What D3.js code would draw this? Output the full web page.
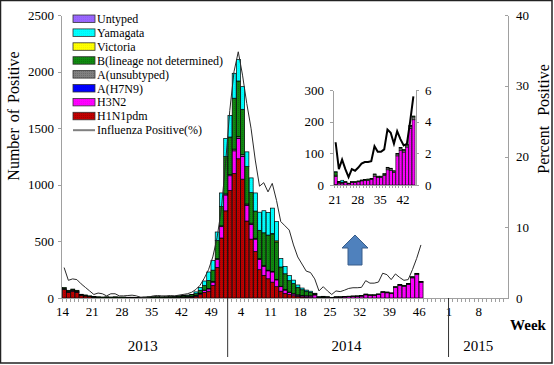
<!DOCTYPE html>
<html lang="en">
<head>
<meta charset="utf-8">
<title>Influenza Positive by Week</title>
<script src="https://d3js.org/d3.v7.min.js"></script>
<style>
  body { margin: 0; background: #fff; }
  svg { display: block; font-family: "Liberation Serif", "Times New Roman", serif; }
  .axis path, .axis line { stroke: #a0a0a0; shape-rendering: crispEdges; }
  .axis text { font-size: 13px; fill: #000; font-family: "Liberation Serif", serif; }
</style>
</head>
<body>
<svg id="chart" width="554" height="365"></svg>
<script>

// ---- data: 2013 wk14 .. 2014 wk46 (85 weeks) ----
var years = [2013, 2014, 2015];
var firstWeek = {2013: 14, 2014: 1, 2015: 1};
var lastWeek = {2013: 52, 2014: 52, 2015: 14};

var h1n1 = [75,50,60,50,22,18,12,4,2,1,2,1,2,1,1,1,1,1,1,1,2,2,2,2,2,3,3,4,5,6,8,15,30,50,60,110,270,530,770,
            950,1100,1230,1050,680,520,410,250,200,170,140,100,60,40,30,20,15,10,5,3,1,0,0,0,0,0,0,0,0,0,0,0,0,0,0,0,0,0,0,0,0,0,0,0,0,0];
var h3n2 = [2,2,3,3,2,2,1,1,1,1,1,1,1,1,1,1,1,1,1,1,1,1,1,1,1,1,1,1,2,2,3,5,8,15,20,30,70,100,140,
            130,200,180,200,140,130,110,90,80,70,90,60,40,30,20,15,10,10,12,14,26,6,6,8,4,8,8,10,13,15,15,17,28,24,24,30,48,46,40,92,110,104,120,178,206,138];
var h7n9 = [0,0,0,0,0,0,0,0,0,0,0,0,0,0,0,0,0,0,0,0,0,0,0,0,0,0,0,0,0,0,0,0,0,0,0,0,0,0,0,
            0,0,2,2,1,1,0,0,0,0,0,0,0,0,0,0,0,0,0,0,0,0,0,0,0,0,0,0,0,0,0,0,0,0,0,0,0,0,0,0,0,0,0,0,0,0];
var aUnsub = [8,8,8,7,4,3,2,3,2,2,2,2,2,2,2,1,1,1,1,2,2,2,2,2,2,2,3,3,3,4,4,4,5,5,5,6,8,8,10,
              12,15,15,15,10,10,8,8,6,6,6,5,4,4,3,3,3,3,3,3,4,1,1,1,1,1,1,1,1,1,2,2,5,3,3,4,6,5,4,6,7,6,6,8,9,6];
var bLnd = [8,8,8,8,5,4,4,5,6,5,6,5,6,5,5,4,4,3,4,5,6,7,7,6,7,8,8,10,10,12,14,15,25,40,70,100,160,170,330,
            330,450,490,400,330,270,240,250,290,310,330,330,170,140,100,90,65,50,40,30,10,3,2,2,1,2,2,2,2,2,2,2,2,1,1,2,2,2,1,2,2,2,2,2,3,2];
var victoria = [0,0,0,0,0,0,0,0,0,0,0,0,0,0,0,0,0,0,0,0,0,0,0,0,0,0,0,0,0,0,0,0,0,0,0,0,0,0,0,
                0,0,0,0,0,0,0,0,0,0,3,10,0,0,0,0,0,0,0,0,0,0,0,0,0,0,0,0,0,0,0,0,0,0,0,0,0,0,0,0,0,0,0,0,0,0];
var yamagata = [0,0,0,0,0,0,0,0,0,0,0,0,0,0,0,0,0,0,0,0,0,0,0,0,0,0,1,1,2,2,3,15,25,40,75,85,75,120,160,
                190,220,190,200,130,130,160,160,195,200,225,170,75,65,45,30,22,15,10,10,1,1,6,0,0,0,0,0,0,0,0,0,0,0,0,0,0,0,0,0,0,0,0,0,0,0];
var untyped = [0,0,0,0,0,0,0,0,0,0,0,0,0,0,0,0,0,0,0,0,0,0,0,0,0,0,0,0,0,0,0,0,0,0,0,0,0,0,0,
               0,0,0,0,0,0,0,0,0,0,0,0,0,0,0,0,0,0,0,0,0,0,0,0,0,0,0,0,0,0,0,0,0,0,0,0,0,0,0,0,0,0,0,0,0,0];
var pctPositive = [4.3,2.5,2.7,2.6,2.0,1.5,1.0,0.5,0.7,0.6,0.3,0.6,0.6,0.3,0.3,0.35,0.4,0.3,0.1,0.1,0.15,0.3,0.35,0.3,0.3,0.35,0.3,0.4,0.5,0.6,0.8,1.2,1.8,2.8,4.0,5.8,8.5,12.5,19.0,
                   26.5,32.0,34.8,31.5,27.5,24.0,19.5,15.8,16.3,15.0,16.2,13.8,10.8,10.2,9.6,7.5,5.8,4.8,3.8,3.6,2.7,1.0,1.6,1.0,0.5,1.0,0.9,1.1,1.35,1.45,1.45,1.5,2.45,2.1,2.1,2.25,3.5,3.3,2.6,3.4,2.9,2.5,2.6,4.0,5.6,7.5];

var keys = ["H1N1pdm", "H3N2", "A(H7N9)", "A(unsubtyped)", "B(lineage not determined)", "Victoria", "Yamagata", "Untyped"];
var series = [h1n1, h3n2, h7n9, aUnsub, bLnd, victoria, yamagata, untyped];
var colors = ["#c00000", "#ff00ff", "#0000ff", "#808080", "#108a10", "#ffff00", "#00ffff", "#9966ff"];

var leftTicks = [0, 500, 1000, 1500, 2000, 2500];
var rightTicks = [0, 10, 20, 30, 40];
var xLabelWeeks = ["2013-14","2013-21","2013-28","2013-35","2013-42","2013-49",
                   "2014-4","2014-11","2014-18","2014-25","2014-32","2014-39","2014-46",
                   "2015-1","2015-8"];
var yearLabelAt = {2013: "2013-33", 2014: "2014-29", 2015: "2015-8"};

// inset: 2014 wk21 .. wk45
var insetFrom = "2014-21", insetTo = "2014-45";
var insetLeftTicks = [0, 100, 200, 300];
var insetRightTicks = [0, 2, 4, 6];
var insetLabelWeeks = ["2014-21", "2014-28", "2014-35", "2014-42"];

// ---- week keys ----
var allWeeks = [];
years.forEach(function(y){
  d3.range(firstWeek[y], lastWeek[y] + 1).forEach(function(w){ allWeeks.push(y + "-" + w); });
});

var rows = allWeeks.slice(0, h1n1.length).map(function(k, i){
  var r = {week: k, pct: pctPositive[i]};
  keys.forEach(function(key, j){ r[key] = series[j][i]; });
  return r;
});

var svg = d3.select("#chart");

// pattern fills for the dotted look
var defs = svg.append("defs");
colors.forEach(function(c, i){
  var p = defs.append("pattern").attr("id", "pat" + i)
    .attr("patternUnits", "userSpaceOnUse").attr("width", 2).attr("height", 2);
  p.append("rect").attr("width", 2).attr("height", 2).attr("fill", c);
  p.append("rect").attr("width", 1).attr("height", 1)
    .attr("fill", d3.color(c).darker(0.6)).attr("opacity", i == 0 || i == 4 || i == 3 ? 0.8 : 0.25);
});

// outer frame
svg.append("rect").attr("x", 0.5).attr("y", 0.5).attr("width", 551.5).attr("height", 362.5)
   .attr("fill", "none").attr("stroke", "#222").attr("stroke-width", 1.5);

// ---- main scales ----
var x = d3.scaleBand().domain(allWeeks).range([62, 508]).padding(0);
var y = d3.scaleLinear().domain([0, 2500]).range([298, 15]);
var yPct = d3.scaleLinear().domain([0, 40]).range([298, 15]);

var stack = d3.stack().keys(keys);
var stacked = stack(rows);

// bars
svg.append("g")
  .selectAll("g")
  .data(stacked)
  .enter()
  .append("g")
  .attr("fill", function(d, i){ return "url(#pat" + i + ")"; })
  .selectAll("rect")
  .data(function(d){ return d.filter(function(s){ return s[1] - s[0] > 0; }); })
  .enter()
  .append("rect")
  .attr("x", function(d){ return x(d.data.week) + 0.3; })
  .attr("y", function(d){ return y(d[1]); })
  .attr("width", x.bandwidth() - 0.3)
  .attr("height", function(d){ return y(d[0]) - y(d[1]); })
  .attr("stroke", "#000")
  .attr("stroke-width", 0.7);

// percent line
var line = d3.line()
  .x(function(d){ return x(d.week) + x.bandwidth() / 2; })
  .y(function(d){ return yPct(d.pct); });

svg.append("path").datum(rows)
  .attr("d", line)
  .attr("fill", "none")
  .attr("stroke", "#2a2a2a")
  .attr("stroke-width", 1);

// left axis
svg.append("g").attr("class", "axis")
  .attr("transform", "translate(61,0)")
  .call(d3.axisLeft(y).tickValues(leftTicks).tickFormat(d3.format("d"))
        .tickSize(3).tickPadding(4).tickSizeOuter(0));

// right axis
svg.append("g").attr("class", "axis")
  .attr("transform", "translate(508,0)")
  .call(d3.axisRight(yPct).tickValues(rightTicks).tickFormat(d3.format("d"))
        .tickSize(3).tickPadding(5).tickSizeOuter(0))
  .selectAll(".tick line").attr("x1", -3).attr("x2", 0);

// x axis: baseline, week ticks, labels
var xAxis = svg.append("g").attr("class", "axis");
xAxis.append("line").attr("x1", 61).attr("x2", 508).attr("y1", 298).attr("y2", 298);
xAxis.selectAll(".wt").data(allWeeks).enter().append("line")
  .attr("x1", function(d){ return x(d); }).attr("x2", function(d){ return x(d); })
  .attr("y1", 298).attr("y2", 302);
xAxis.selectAll(".wl").data(xLabelWeeks).enter().append("text")
  .attr("x", function(d){ return x(d) + 0.5; })
  .attr("y", 316)
  .attr("text-anchor", "middle")
  .text(function(d){ return d.split("-")[1]; });

// year separators
svg.selectAll(".sep").data(["2014-1", "2015-1"]).enter().append("line")
  .attr("x1", function(d){ return x(d); }).attr("x2", function(d){ return x(d); })
  .attr("y1", 298).attr("y2", 357)
  .attr("stroke", "#333").attr("stroke-width", 1);

svg.selectAll(".yr").data(years).enter().append("text")
  .attr("x", function(d){ return x(yearLabelAt[d]); })
  .attr("y", 351)
  .attr("text-anchor", "middle")
  .style("font-size", "15px")
  .text(function(d){ return d; });

svg.append("text").attr("x", 528).attr("y", 330)
  .attr("text-anchor", "middle")
  .style("font-size", "15px").style("font-weight", "bold")
  .text("Week");

// axis titles
svg.append("text")
  .attr("transform", "translate(19,116) rotate(-90)")
  .attr("text-anchor", "middle")
  .style("font-size", "16px").style("word-spacing", "2px")
  .text("Number of Positive");

svg.append("text")
  .attr("transform", "translate(549,119) rotate(-90)")
  .attr("text-anchor", "middle")
  .style("font-size", "16px").style("word-spacing", "6px")
  .text("Percent Positive");

// legend
var legendKeys = keys.slice().reverse();
var legend = svg.append("g").attr("transform", "translate(73,15)");
legend.selectAll("rect").data(legendKeys).enter().append("rect")
  .attr("x", 0).attr("y", function(d, i){ return i * 13.9; })
  .attr("width", 22).attr("height", 7.5)
  .attr("fill", function(d){ return "url(#pat" + keys.indexOf(d) + ")"; })
  .attr("stroke", "#333").attr("stroke-width", 0.8);
legend.selectAll("text").data(legendKeys.concat(["Influenza Positive(%)"])).enter().append("text")
  .attr("x", 24).attr("y", function(d, i){ return i * 13.9 + 8; })
  .style("font-size", "12px")
  .text(function(d){ return d; });
legend.append("line")
  .attr("x1", 0).attr("x2", 22)
  .attr("y1", 8 * 13.9 + 4).attr("y2", 8 * 13.9 + 4)
  .attr("stroke", "#808080").attr("stroke-width", 2);

// ---- inset ----
var i0 = allWeeks.indexOf(insetFrom), i1 = allWeeks.indexOf(insetTo);
var insetWeeks = allWeeks.slice(i0, i1 + 1);
var insetRows = rows.slice(i0, i1 + 1);
var xi = d3.scaleBand().domain(insetWeeks).range([334, 415]).padding(0);
var yi = d3.scaleLinear().domain([0, 300]).range([185, 90]);
var yiPct = d3.scaleLinear().domain([0, 6]).range([185, 90]);

svg.append("g")
  .selectAll("g")
  .data(stack(insetRows))
  .enter()
  .append("g")
  .attr("fill", function(d, i){ return "url(#pat" + i + ")"; })
  .selectAll("rect")
  .data(function(d){ return d.filter(function(s){ return s[1] - s[0] > 0; }); })
  .enter()
  .append("rect")
  .attr("x", function(d){ return xi(d.data.week) + 0.3; })
  .attr("y", function(d){ return yi(d[1]); })
  .attr("width", xi.bandwidth() - 0.3)
  .attr("height", function(d){ return yi(d[0]) - yi(d[1]); })
  .attr("stroke", "#000")
  .attr("stroke-width", 0.6);

svg.append("path").datum(insetRows)
  .attr("d", d3.line()
    .x(function(d){ return xi(d.week) + xi.bandwidth() / 2; })
    .y(function(d){ return yiPct(d.pct); }))
  .attr("fill", "none")
  .attr("stroke", "#000")
  .attr("stroke-width", 2);

svg.append("g").attr("class", "axis")
  .attr("transform", "translate(333,0)")
  .call(d3.axisLeft(yi).tickValues(insetLeftTicks).tickFormat(d3.format("d"))
        .tickSize(3).tickPadding(6).tickSizeOuter(0));

svg.append("g").attr("class", "axis")
  .attr("transform", "translate(416,0)")
  .call(d3.axisRight(yiPct).tickValues(insetRightTicks).tickFormat(d3.format("d"))
        .tickSize(3).tickPadding(6).tickSizeOuter(0));

var xiAxis = svg.append("g").attr("class", "axis");
xiAxis.append("line").attr("x1", 333).attr("x2", 416).attr("y1", 185).attr("y2", 185);
xiAxis.selectAll(".it").data(insetWeeks).enter().append("line")
  .attr("x1", function(d){ return xi(d); }).attr("x2", function(d){ return xi(d); })
  .attr("y1", 185).attr("y2", 188);
xiAxis.selectAll(".il").data(insetLabelWeeks).enter().append("text")
  .attr("x", function(d){ return xi(d) + 1; })
  .attr("y", 204)
  .attr("text-anchor", "middle")
  .text(function(d){ return d.split("-")[1]; });

// arrow pointing to the inset
svg.append("path")
  .attr("d", "M355,235 L368,248 L362,248 L362,265 L348,265 L348,248 L342,248 Z")
  .attr("fill", "#4f81bd")
  .attr("stroke", "#385d8a")
  .attr("stroke-width", 1);

</script>
</body>
</html>
